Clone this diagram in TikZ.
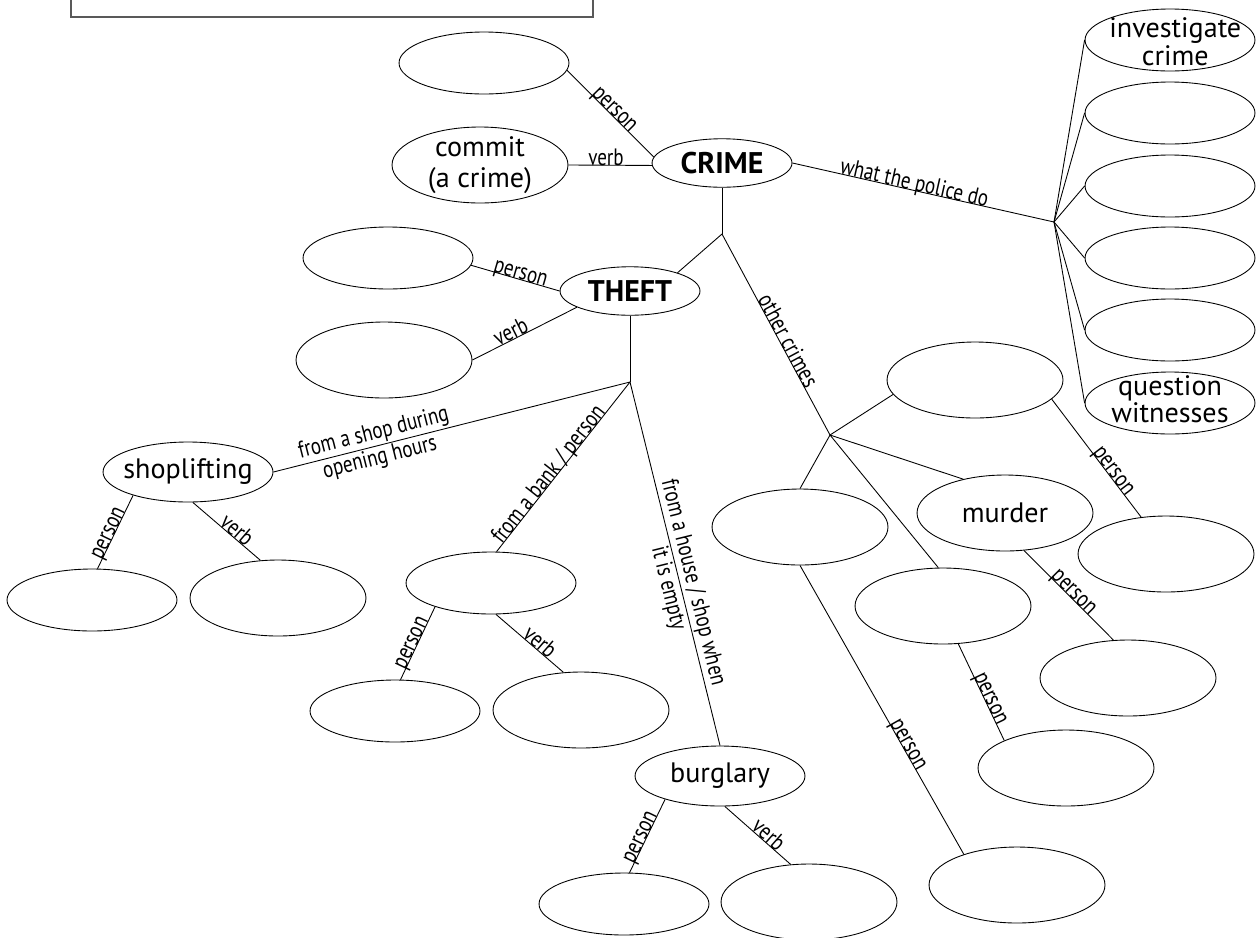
\documentclass[tikz,border=0pt]{standalone}
\usepackage{fontspec}
\setmainfont{PT Sans}
\usetikzlibrary{shapes.geometric}
\newcommand{\cond}[1]{\scalebox{0.8}[1]{#1}}

\tikzset{
  oval/.style={ellipse, draw, inner sep=0pt, minimum width=3.4cm, minimum height=1.24cm},
  bigoval/.style={oval, minimum width=3.52cm, minimum height=1.52cm},
  wordoval/.style={oval, minimum height=1.2cm},
  keyoval/.style={oval, minimum width=2.8cm, minimum height=0.97cm, font=\bfseries\fontsize{17}{20}\selectfont},
  word/.style={align=center, inner sep=0pt, font=\fontsize{16}{18}\selectfont},
  tightword/.style={word, font=\fontsize{16}{15.5}\selectfont},
  lab/.style={sloped, anchor=base, inner sep=0pt, font=\fontsize{13.5}{14.5}\selectfont},
  twolab/.style={lab, anchor=center, align=center},
  boxline/.style={draw=black!65, line width=1pt}
}

\begin{document}
\begin{tikzpicture}[x=0.02cm, y=-0.02cm, line width=0.5pt]
	\useasboundingbox (0,0) rectangle (1256,937);
	\draw[boxline] (71,0) |- (593,17) -- (593,0);

	\node[keyoval] (crime) at (722,163) {CRIME};
	\node[oval] (cperson) at (484,63) {};
	\node[bigoval, label={[word]center:commit\\(a crime)}] (commit) at (480,165) {};
	\coordinate (jc) at (722,234);
	\coordinate (jp) at (1054,222);

	\node[oval, label={[tightword, xshift=3pt, yshift=-1pt]center:investigate\\crime}] (police1) at (1170,40) {};
	\node[oval] (police2) at (1170,113) {};
	\node[oval] (police3) at (1170,186) {};
	\node[oval] (police4) at (1170,258) {};
	\node[oval] (police5) at (1170,330) {};
	\node[oval, label={[tightword, yshift=2pt]center:question\\witnesses}] (police6) at (1170,403) {};

	\node[keyoval] (theft) at (630,291) {THEFT};
	\node[oval] (tperson) at (388,258) {};
	\node[bigoval] (tverb) at (384,360) {};
	\coordinate (jt) at (630,382);

	\node[wordoval, label={[word]center:shoplifting}] (shop) at (188,472) {};
	\node[oval] (shopperson) at (92,600) {};
	\node[bigoval] (shopverb) at (278,598) {};
	\node[oval] (bank) at (491,583) {};
	\node[oval] (bankperson) at (395,711) {};
	\node[bigoval] (bankverb) at (581,710) {};
	\node[wordoval, label={[word]center:burglary}] (burglary) at (720,776) {};
	\node[oval] (burgperson) at (624,904) {};
	\node[bigoval] (burgverb) at (809,902) {};

	\coordinate (jo) at (830,435);
	\node[bigoval] (other1) at (975,380) {};
	\node[bigoval, label={[word]center:murder}] (murder) at (1005,513) {};
	\node[bigoval] (other2) at (800,527) {};
	\node[bigoval] (other3) at (943,606) {};
	\node[bigoval] (person1) at (1166,554) {};
	\node[bigoval] (person2) at (1128,678) {};
	\node[bigoval] (person3) at (1066,768) {};
	\node[bigoval] (person4) at (1017,885) {};

	\draw (cperson.-5) -- node[lab, pos=.5] {\cond{person}} (crime.175);
	\draw (commit.east) -- node[lab, pos=.45] {\cond{verb}} (crime.182);
	\draw (crime.south) -- (jc);
	\draw (jc) -- (theft.21);
	\draw (jc) -- node[lab, pos=.55] {\cond{other crimes}} (jo);
	\draw (crime.east) -- node[lab, pos=.46] {\cond{what the police do}} (jp);
	\draw (jp) -- (police1.west);
	\draw (jp) -- (police2.west);
	\draw (jp) -- (police3.west);
	\draw (jp) -- (police4.west);
	\draw (jp) -- (police5.west);
	\draw (jp) -- (police6.west);

	\draw (tperson.-5) -- node[lab, pos=.54] {\cond{person}} (theft.west);
	\draw (tverb.east) -- node[lab, pos=.4] {\cond{verb}} (theft.197);
	\draw (theft.south) -- (jt);
	\draw (jt) -- node[twolab, pos=.71] {\cond{from a shop during}\\\cond{opening hours}} (shop.east);
	\draw (jt) -- node[lab, pos=.57] {\cond{from a bank / person}} (bank.80);
	\draw (jt) -- node[twolab, pos=.56] {\cond{from a house / shop when}\\\cond{it is empty}} (burglary.north);

	\draw (shop.203) -- node[lab, pos=.55] {\cond{person}} (shopperson.80);
	\draw (shop.-81) -- node[lab, pos=.58] {\cond{verb}} (shopverb.115);
	\draw (bank.203) -- node[lab, pos=.53] {\cond{person}} (bankperson.80);
	\draw (bank.-81) -- node[lab, pos=.58] {\cond{verb}} (bankverb.115);
	\draw (burglary.203) -- node[lab, pos=.55] {\cond{person}} (burgperson.80);
	\draw (burglary.-81) -- node[lab, pos=.59] {\cond{verb}} (burgverb.116);

	\draw (jo) -- (other1.190);
	\draw (jo) -- (murder.141);
	\draw (jo) -- (other2.north);
	\draw (jo) -- (other3.97);
	\draw (other1.-14) -- node[lab, pos=.64] {\cond{person}} (person1.124);
	\draw (murder.-63) -- node[lab, pos=.51] {\cond{person}} (person2.111);
	\draw (other3.-68) -- node[lab, pos=.59] {\cond{person}} (person3.156);
	\draw (other2.south) -- node[lab, pos=.63] {\cond{person}} (person4.150);
\end{tikzpicture}
\end{document}
